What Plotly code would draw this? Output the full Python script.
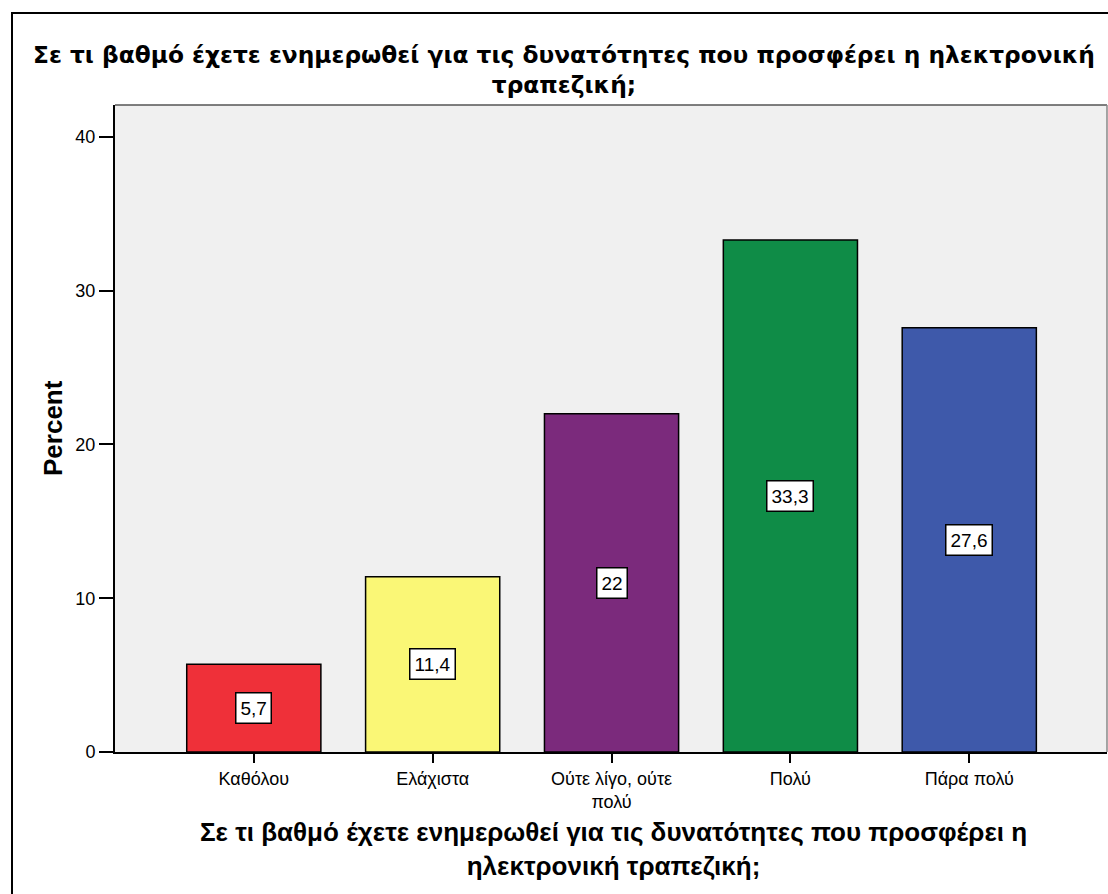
import plotly.graph_objects as go

# Survey answers (percent of respondents)
categories = ["Καθόλου", "Ελάχιστα", "Ούτε λίγο, ούτε πολύ", "Πολύ", "Πάρα πολύ"]
tick_labels = ["Καθόλου", "Ελάχιστα", "Ούτε λίγο, ούτε<br>πολύ", "Πολύ", "Πάρα πολύ"]
percent = [5.7, 11.4, 22.0, 33.3, 27.6]
value_labels = ["5,7", "11,4", "22", "33,3", "27,6"]
bar_colors = ["#EF3039", "#FAF776", "#7B2A7C", "#0F8C47", "#3E59AA"]
y_ticks = [0, 10, 20, 30, 40]

title_text = ("Σε τι βαθμό έχετε ενημερωθεί για τις δυνατότητες που προσφέρει η ηλεκτρονική"
              "<br>τραπεζική;")
xaxis_title = ("Σε τι βαθμό έχετε ενημερωθεί για τις δυνατότητες που προσφέρει η"
               "<br>ηλεκτρονική τραπεζική;")

W, H = 1108, 894
L, R, T, B = 115, 1, 105, 142
pw, ph = W - L - R, H - T - B


def px_x(x):
    return (x - L) / pw


def px_y(y):
    return (H - B - y) / ph


fig = go.Figure()
fig.add_trace(go.Bar(
    x=list(range(len(categories))),
    y=percent,
    width=0.75,
    marker=dict(color=bar_colors, line=dict(color="black", width=1.5)),
    hovertext=categories,
))

# Value boxes in the middle of each bar
for i, (v, lab) in enumerate(zip(percent, value_labels)):
    fig.add_annotation(
        x=i, y=v / 2, xref="x", yref="y", text=lab, showarrow=False,
        font=dict(family="Liberation Sans, Arial", size=19, color="black"),
        bgcolor="white", bordercolor="black", borderwidth=1.5, borderpad=4,
    )

# Chart title
fig.add_annotation(
    x=px_x(564), y=px_y(70), xref="paper", yref="paper", text="<b>" + title_text + "</b>",
    showarrow=False, xanchor="center", yanchor="middle",
    font=dict(family="DejaVu Sans", size=23.3, color="black"),
)

# Axis titles
fig.add_annotation(
    x=px_x(613), y=px_y(849), xref="paper", yref="paper", text="<b>" + xaxis_title + "</b>",
    showarrow=False, xanchor="center", yanchor="middle",
    font=dict(family="Liberation Sans, Arial", size=26, color="black"),
)
fig.add_annotation(
    x=px_x(53), y=px_y(428), xref="paper", yref="paper", text="<b>Percent</b>",
    showarrow=False, textangle=-90, xanchor="center", yanchor="middle",
    font=dict(family="Liberation Sans, Arial", size=26, color="black"),
)

# Outer frame and plot area borders
fig.add_shape(type="rect", xref="paper", yref="paper",
              x0=px_x(12), y0=px_y(905), x1=px_x(1120), y1=px_y(13),
              line=dict(color="black", width=2), layer="above")
fig.add_shape(type="line", xref="paper", yref="paper",
              x0=0, y0=1, x1=1, y1=1, line=dict(color="#555555", width=1.5))
fig.add_shape(type="line", xref="paper", yref="paper",
              x0=1, y0=0, x1=1, y1=1, line=dict(color="#888888", width=1.5))

fig.update_layout(
    width=W, height=H,
    margin=dict(l=L, r=R, t=T, b=B, pad=0),
    paper_bgcolor="white", plot_bgcolor="#F0F0F0",
    showlegend=False, bargap=0.25,
    font=dict(family="Liberation Sans, Arial", size=16, color="black"),
    xaxis=dict(
        range=[-0.776, 4.77], tickmode="array", tickvals=list(range(len(categories))),
        ticktext=tick_labels, ticks="outside", ticklen=9, tickwidth=2, tickcolor="black",
        showline=True, linecolor="black", linewidth=2, showgrid=False, zeroline=False,
        tickfont=dict(size=18),
    ),
    yaxis=dict(
        range=[0, 42.08], tickmode="array", tickvals=y_ticks, ticks="outside",
        ticklen=14, tickwidth=2, tickcolor="black", showline=True, linecolor="black",
        linewidth=2, showgrid=False, zeroline=False, tickfont=dict(size=18),
    ),
)

fig.write_html("out.html")
